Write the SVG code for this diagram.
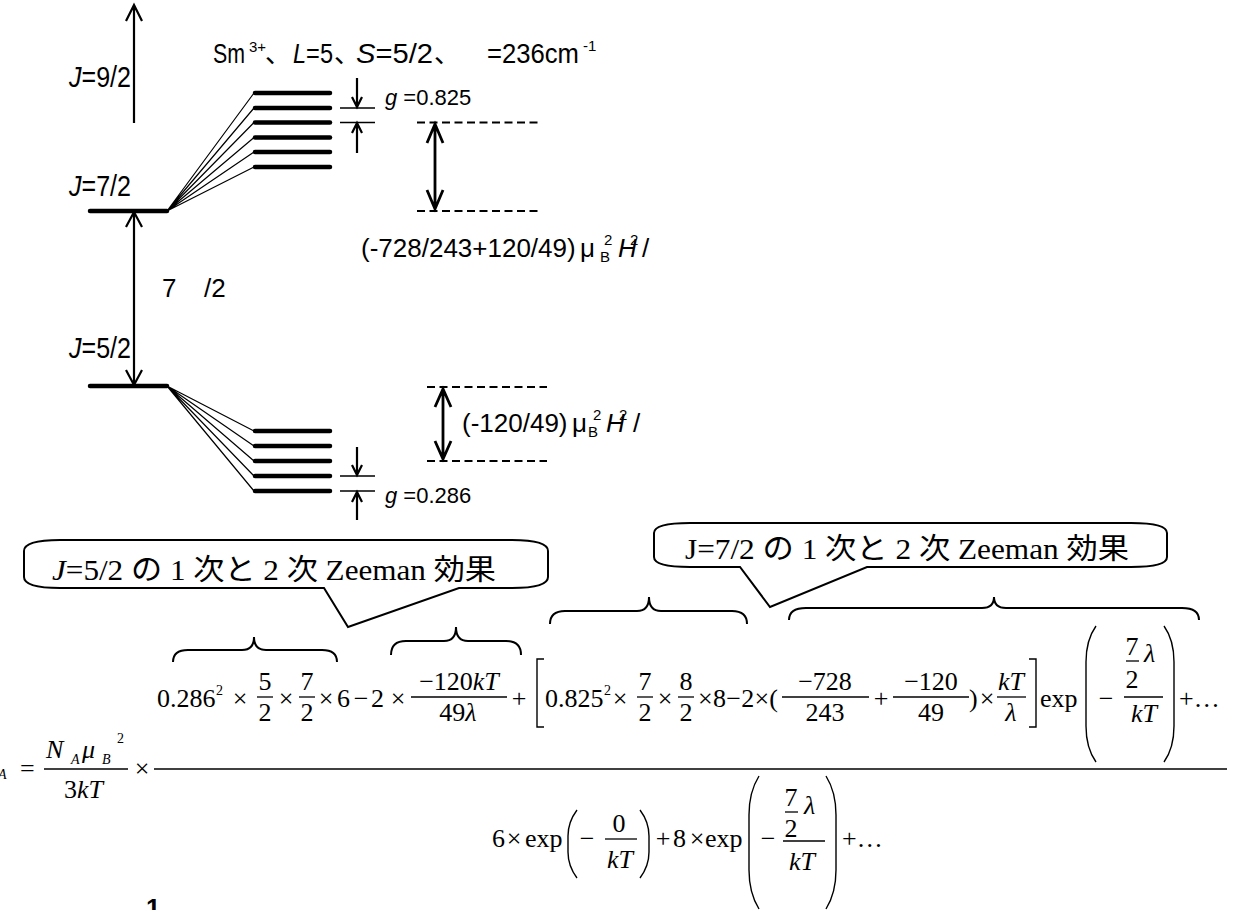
<svg xmlns="http://www.w3.org/2000/svg" width="1236" height="910" viewBox="0 0 1236 910">
<style>
.s{font-family:'Liberation Sans',Arial,sans-serif;font-size:26px;fill:#000}
.sl{font-family:'Liberation Sans',Arial,sans-serif;font-size:29px;fill:#000}
.st{font-family:'Liberation Sans',Arial,sans-serif;font-size:28px;fill:#000}
.g{font-family:'Liberation Sans',Arial,sans-serif;font-size:22px;fill:#000}
.sup{font-family:'Liberation Sans',Arial,sans-serif;font-size:15px;fill:#000}
.jc{font-family:'Noto Sans CJK JP',sans-serif;font-size:26px;fill:#000}
.m{font-family:'Liberation Serif','Times New Roman',serif;font-size:26px;fill:#000}
.ms{font-family:'Liberation Serif','Times New Roman',serif;font-size:14px;fill:#000}
.i{font-style:italic}
.jp{font-family:'Liberation Serif','Noto Sans CJK JP',serif;font-size:29px;fill:#000}
.lv{stroke:#000;stroke-width:4.5;stroke-linecap:round;fill:none}
.fan{stroke:#000;stroke-width:1.2;fill:none}
.dash{stroke:#000;stroke-width:2;stroke-dasharray:8 4.5;fill:none}
.ar{stroke:#000;stroke-width:2.2;fill:none}
.ar3{stroke:#000;stroke-width:2.8;fill:none}
.tk{stroke:#000;stroke-width:1.4;fill:none}
.br{stroke:#000;stroke-width:2;fill:none}
.bar{stroke:#000;stroke-width:1.3;fill:none}
.pa{stroke:#000;stroke-width:1.4;fill:none}
.co{stroke:#000;stroke-width:2;fill:#fff}
</style>
<rect width="1236" height="910" fill="#fff"/>

<g id="levels">
  <g id="level-J92">
    <text class="sl" x="69" y="87" textLength="62" lengthAdjust="spacingAndGlyphs"><tspan class="i">J</tspan>=9/2</text>
  </g>
  <g id="level-J72">
    <text class="sl" x="69" y="196" textLength="62" lengthAdjust="spacingAndGlyphs"><tspan class="i">J</tspan>=7/2</text>
    <line class="lv" x1="90" y1="211" x2="167" y2="211"/>
  </g>
  <g id="level-J52">
    <text class="sl" x="69" y="358" textLength="62" lengthAdjust="spacingAndGlyphs"><tspan class="i">J</tspan>=5/2</text>
    <line class="lv" x1="90" y1="386" x2="167" y2="386"/>
  </g>
  <g id="zeeman-upper">
    <line class="lv" x1="255" y1="93" x2="330" y2="93"/>
    <line class="lv" x1="255" y1="108" x2="330" y2="108"/>
    <line class="lv" x1="255" y1="122.5" x2="330" y2="122.5"/>
    <line class="lv" x1="255" y1="137.5" x2="330" y2="137.5"/>
    <line class="lv" x1="255" y1="152" x2="330" y2="152"/>
    <line class="lv" x1="255" y1="167" x2="330" y2="167"/>
  </g>
  <g id="zeeman-lower">
    <line class="lv" x1="255" y1="431" x2="330" y2="431"/>
    <line class="lv" x1="255" y1="446" x2="330" y2="446"/>
    <line class="lv" x1="255" y1="461" x2="330" y2="461"/>
    <line class="lv" x1="255" y1="476" x2="330" y2="476"/>
    <line class="lv" x1="255" y1="491" x2="330" y2="491"/>
  </g>
  <g id="title">
    <text class="st" x="213" y="63" textLength="32" lengthAdjust="spacingAndGlyphs">Sm</text>
    <text class="sup" x="249" y="52">3+</text>
    <text class="jc" x="265" y="63">、</text>
    <text class="st" x="293" y="63" textLength="40" lengthAdjust="spacingAndGlyphs"><tspan class="i">L</tspan>=5</text>
    <text class="jc" x="334" y="63">、</text>
    <text class="st" x="356" y="63" textLength="77" lengthAdjust="spacingAndGlyphs"><tspan class="i">S</tspan>=5/2</text>
    <text class="jc" x="434" y="63">、</text>
    <text class="st" x="487" y="63" textLength="92" lengthAdjust="spacingAndGlyphs">=236cm</text>
    <text class="sup" x="583" y="51">-1</text>
  </g>
  <g id="g-labels">
    <text class="g" x="385" y="105"><tspan class="i">g</tspan> =0.825</text>
    <text class="g" x="385" y="503"><tspan class="i">g</tspan> =0.286</text>
  </g>
  <g id="energy-labels">
    <text class="s" x="361" y="257">(-728/243+120/49)</text>
    <text class="s" x="580" y="257">μ</text>
    <text class="sup" x="600" y="262">B</text>
    <text class="sup" x="604" y="245">2</text>
    <text class="s i" x="618" y="257">H</text>
    <text class="sup" x="630" y="245">2</text>
    <text class="s" x="642" y="257">/</text>

    <text class="s" x="462" y="432">(-120/49)</text>
    <text class="s" x="572" y="432">μ</text>
    <text class="sup" x="588" y="437">B</text>
    <text class="sup" x="593" y="420">2</text>
    <text class="s i" x="606" y="432">H</text>
    <text class="sup" x="619" y="420">2</text>
    <text class="s" x="633" y="432">/</text>

    <text class="s" x="162" y="297">7</text>
    <text class="s" x="204" y="297">/2</text>
  </g>
</g>

<g id="connectors">
  <path class="fan" d="M167,211 L254,93 M167,211 L254,108 M167,211 L254,122.5 M167,211 L254,137.5 M167,211 L254,152 M167,211 L254,167"/>
  <path class="fan" d="M167,386 L254,431 M167,386 L254,446 M167,386 L254,461 M167,386 L254,476 M167,386 L254,491"/>
  <path class="ar" d="M134,123 L134,5 M126,21 L134,5 L142,21"/>
  <path class="ar" d="M134,212 L134,385 M126,227 L134,212 L142,227 M126,370 L134,385 L142,370"/>
  <path class="dash" d="M417,122.5 L538,122.5 M417,211 L538,211"/>
  <path class="ar3" d="M435,124 L435,209 M427,143 L435,124 L443,143 M427,190 L435,209 L443,190"/>
  <path class="dash" d="M427,387 L547,387 M427,461 L547,461"/>
  <path class="ar3" d="M443,389 L443,459 M435,407 L443,389 L451,407 M435,441 L443,459 L451,441"/>
  <path class="tk" d="M340,108 L375,108 M340,122.5 L375,122.5 M340,476 L375,476 M340,491 L375,491"/>
  <path class="ar" d="M357,78 L357,107 M352,97 L357,107 L362,97 M357,153 L357,123 M352,133 L357,123 L362,133"/>
  <path class="ar" d="M357,447 L357,475 M352,465 L357,475 L362,465 M357,520 L357,492 M352,502 L357,492 L362,502"/>
</g>

<g id="callout1">
  <path class="co" d="M60,540 L512,540 Q548,540 548,551 L548,577 Q548,588 512,588 L459,588 L348,627 L324,588 L60,588 Q24,588 24,577 L24,551 Q24,540 60,540 Z"/>
  <text class="jp" x="52" y="580" textLength="444" lengthAdjust="spacingAndGlyphs"><tspan class="i">J</tspan>=5/2 の 1 次と 2 次 Zeeman 効果</text>
</g>
<g id="callout2">
  <path class="co" d="M690,523 L1131,523 Q1167,523 1167,533 L1167,557 Q1167,567 1131,567 L867,567 L770,607 L740,567 L690,567 Q654,567 654,557 L654,533 Q654,523 690,523 Z"/>
  <text class="jp" x="685" y="559" textLength="444" lengthAdjust="spacingAndGlyphs">J=7/2 の 1 次と 2 次 Zeeman 効果</text>
</g>

<g id="braces">
  <path class="br" d="M173,662 Q173,650 188,650 L242,650 Q254,650 254,637 Q254,650 266,650 L322,650 Q337,650 337,662"/>
  <path class="br" d="M391,655 Q391,641 406,641 L444,641 Q456,641 456,627 Q456,641 468,641 L506,641 Q521,641 521,655"/>
  <path class="br" d="M550,624 Q550,611 565,611 L637,611 Q649,611 649,597 Q649,611 661,611 L732,611 Q747,611 747,624"/>
  <path class="br" d="M789,620 Q789,608 806,608 L982,608 Q994,608 994,597 Q994,608 1006,608 L1182,608 Q1199,608 1199,620"/>
</g>

<g id="formula">
  <text class="m" x="157" y="707">0.286</text>
  <text class="ms" x="216" y="695">2</text>
  <text class="m" x="240" y="707" text-anchor="middle">×</text>
  <text class="m" x="265" y="690" text-anchor="middle">5</text>
  <line class="bar" x1="257" y1="697" x2="273" y2="697"/>
  <text class="m" x="265" y="721" text-anchor="middle">2</text>
  <text class="m" x="286" y="707" text-anchor="middle">×</text>
  <text class="m" x="307" y="690" text-anchor="middle">7</text>
  <line class="bar" x1="299" y1="697" x2="315" y2="697"/>
  <text class="m" x="307" y="721" text-anchor="middle">2</text>
  <text class="m" x="326" y="707" text-anchor="middle">×</text>
  <text class="m" x="337" y="707">6</text>
  <text class="m" x="361" y="707" text-anchor="middle">−</text>
  <text class="m" x="371" y="707">2</text>
  <text class="m" x="398" y="707" text-anchor="middle">×</text>
  <text class="m" x="459" y="690" text-anchor="middle">−120<tspan class="i">kT</tspan></text>
  <line class="bar" x1="411" y1="697" x2="507" y2="697"/>
  <text class="m" x="458" y="721" text-anchor="middle">49<tspan class="i">λ</tspan></text>
  <text class="m" x="519" y="707" text-anchor="middle">+</text>
  <path class="pa" d="M544,659 L537,659 L537,727 L544,727"/>
  <text class="m" x="545" y="707">0.825</text>
  <text class="ms" x="604" y="695">2</text>
  <text class="m" x="620" y="707" text-anchor="middle">×</text>
  <text class="m" x="645" y="690" text-anchor="middle">7</text>
  <line class="bar" x1="637" y1="697" x2="653" y2="697"/>
  <text class="m" x="645" y="721" text-anchor="middle">2</text>
  <text class="m" x="665" y="707" text-anchor="middle">×</text>
  <text class="m" x="686" y="690" text-anchor="middle">8</text>
  <line class="bar" x1="678" y1="697" x2="694" y2="697"/>
  <text class="m" x="686" y="721" text-anchor="middle">2</text>
  <text class="m" x="698" y="707" textLength="80" lengthAdjust="spacing">×8−2×(</text>
  <text class="m" x="825" y="690" text-anchor="middle">−728</text>
  <line class="bar" x1="782" y1="697" x2="869" y2="697"/>
  <text class="m" x="825" y="721" text-anchor="middle">243</text>
  <text class="m" x="881" y="707" text-anchor="middle">+</text>
  <text class="m" x="931" y="690" text-anchor="middle">−120</text>
  <line class="bar" x1="893" y1="697" x2="969" y2="697"/>
  <text class="m" x="931" y="721" text-anchor="middle">49</text>
  <text class="m" x="969" y="707">)</text>
  <text class="m" x="987" y="707" text-anchor="middle">×</text>
  <text class="m i" x="1011" y="690" text-anchor="middle">kT</text>
  <line class="bar" x1="997" y1="697" x2="1026" y2="697"/>
  <text class="m i" x="1011" y="721" text-anchor="middle">λ</text>
  <path class="pa" d="M1029,659 L1036,659 L1036,727 L1029,727"/>
  <text class="m" x="1040" y="707">exp</text>
  <path class="pa" d="M1096,626 Q1086,640 1086,662 L1086,726 Q1086,748 1096,762"/>
  <text class="m" x="1106" y="707" text-anchor="middle">−</text>
  <text class="m" x="1132" y="655" text-anchor="middle">7</text>
  <line class="bar" x1="1126" y1="661" x2="1139" y2="661"/>
  <text class="m" x="1132" y="688" text-anchor="middle">2</text>
  <text class="m i" x="1144" y="662">λ</text>
  <line class="bar" x1="1124" y1="697" x2="1163" y2="697"/>
  <text class="m i" x="1144" y="722" text-anchor="middle">kT</text>
  <path class="pa" d="M1164,626 Q1174,640 1174,662 L1174,726 Q1174,748 1164,762"/>
  <text class="m" x="1179" y="707">+…</text>

  <text class="ms i" x="-2" y="779">A</text>
  <text class="m" x="20" y="777">=</text>
  <text class="m i" x="46" y="758">N</text>
  <text class="ms i" x="71" y="764">A</text>
  <text class="m i" x="82" y="758">μ</text>
  <text class="ms i" x="102" y="764">B</text>
  <text class="ms" x="117" y="743">2</text>
  <line class="bar" x1="44" y1="769" x2="128" y2="769"/>
  <text class="m" x="64" y="798">3<tspan class="i">kT</tspan></text>
  <text class="m" x="142" y="777" text-anchor="middle">×</text>
  <line class="bar" x1="154" y1="769" x2="1227" y2="769"/>

  <text class="m" x="492" y="847">6</text>
  <text class="m" x="514" y="847" text-anchor="middle">×</text>
  <text class="m" x="525" y="847">exp</text>
  <path class="pa" d="M577,810 Q568,822 568,836 L568,852 Q568,866 577,878"/>
  <text class="m" x="587" y="847" text-anchor="middle">−</text>
  <text class="m" x="619" y="832" text-anchor="middle">0</text>
  <line class="bar" x1="605" y1="839" x2="637" y2="839"/>
  <text class="m i" x="620" y="868" text-anchor="middle">kT</text>
  <path class="pa" d="M640,810 Q649,822 649,836 L649,852 Q649,866 640,878"/>
  <text class="m" x="663" y="847" text-anchor="middle">+</text>
  <text class="m" x="673" y="847">8</text>
  <text class="m" x="697" y="847" text-anchor="middle">×</text>
  <text class="m" x="705" y="847">exp</text>
  <path class="pa" d="M759,776 Q749,792 749,815 L749,870 Q749,893 759,909"/>
  <text class="m" x="768" y="847" text-anchor="middle">−</text>
  <text class="m" x="791" y="806" text-anchor="middle">7</text>
  <line class="bar" x1="785" y1="812" x2="798" y2="812"/>
  <text class="m" x="791" y="837" text-anchor="middle">2</text>
  <text class="m i" x="804" y="814">λ</text>
  <line class="bar" x1="783" y1="841" x2="825" y2="841"/>
  <text class="m i" x="802" y="870" text-anchor="middle">kT</text>
  <path class="pa" d="M826,776 Q836,792 836,815 L836,870 Q836,893 826,909"/>
  <text class="m" x="842" y="847">+…</text>

  <text class="s" x="146" y="917" font-weight="bold">1</text>
</g>
</svg>
